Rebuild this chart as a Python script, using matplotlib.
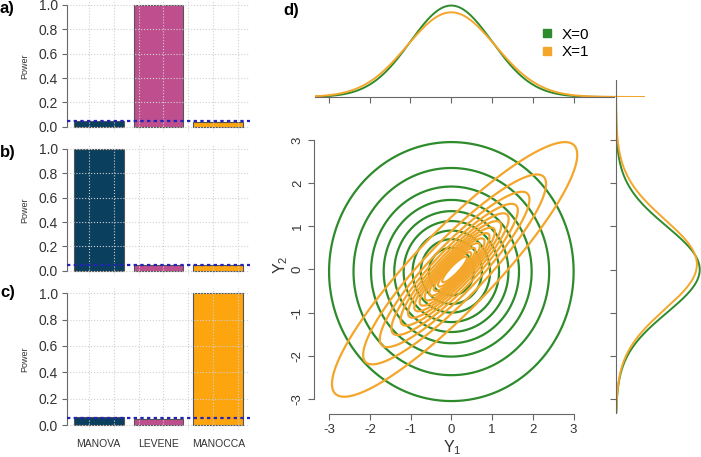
import numpy as np
import matplotlib
matplotlib.use('Agg')
import matplotlib.pyplot as plt
from matplotlib.lines import Line2D

plt.rcParams['font.family'] = ['Liberation Sans', 'DejaVu Sans']
plt.rcParams['axes.unicode_minus'] = False

# ---- data ----
tests = ['MANOVA', 'LEVENE', 'MANOCCA']
power_a = [0.05, 1.0, 0.04]
power_b = [1.0, 0.045, 0.05]
power_c = [0.06, 0.045, 1.0]
alpha_level = 0.05
bar_colors = ['#0A3F5E', '#BF4E8E', '#FDA50F']

groups = ['X=0', 'X=1']
group_colors = ['#2E8B2B', '#F4A62A']
# bivariate normal summaries per group: mean1, mean2, sd1, sd2, rho
means = [(0.0, -0.05), (0.08, 0.0)]
sds = [(1.0, 1.0), (1.02, 1.0)]
rhos = [0.0, 0.9]
# contour levels, given as Mahalanobis radii
radii_x0 = [3.0, 2.4, 1.97, 1.66, 1.4, 1.17, 0.95, 0.75, 0.55]
radii_x1 = [2.95, 2.2, 1.8, 1.52, 1.3, 1.12, 0.97, 0.84, 0.72, 0.61, 0.5, 0.4, 0.3]
# marginal densities: (mean, sd)
top_marg = [(0.0, 1.0), (0.0, 1.08)]
right_marg = [(0.0, 1.0), (0.12, 1.035)]

W, H = 701, 457
fig = plt.figure(figsize=(W / 100, H / 100), dpi=100)


def px_axes(left, top, right, bottom):
    return fig.add_axes([left / W, 1 - bottom / H, (right - left) / W, (bottom - top) / H])


spine_col = '#666666'
text_col = '#333333'

# ---- bar panels a, b, c ----
centers = np.array([0.7, 1.9, 3.1])
panels = [
    (power_a, 0.13, 131.6, 'a)', 9),
    (power_b, 144.1, 275.6, 'b)', 152),
    (power_c, 288.0, 430.3, 'c)', 292),
]
for i, (vals, top, bottom, letter, ly) in enumerate(panels):
    ax = px_axes(67, top, 250, bottom)
    ax.bar(centers, vals, width=1.0, color=bar_colors, edgecolor='#555555', linewidth=0.8, zorder=1)
    ax.set_xlim(0.064, 3.736)
    ax.set_ylim(-0.04, 1.04)
    ax.set_xticks(np.arange(0.5, 3.51, 0.5), minor=True)
    ax.grid(True, which='minor', axis='x', color='#d0d0d0', linestyle=':', linewidth=0.8, zorder=2)
    ax.set_yticks(np.arange(0, 1.01, 0.2))
    ax.grid(True, which='major', axis='y', color='#d0d0d0', linestyle=':', linewidth=0.8, zorder=2)
    ax.set_axisbelow(False)
    ax.axhline(alpha_level, color='#2323B8', linestyle=(0, (1.5, 1.5)), linewidth=1.6, zorder=3)
    for s in ['top', 'right', 'bottom']:
        ax.spines[s].set_visible(False)
    ax.spines['left'].set_bounds(0, 1)
    ax.spines['left'].set_color(spine_col)
    ax.tick_params(axis='y', direction='out', length=3.6, color=spine_col, labelsize=10,
                   labelcolor=text_col, pad=3)
    ax.tick_params(axis='x', which='minor', length=0)
    ax.set_yticklabels([f'{v:.1f}' for v in np.arange(0, 1.01, 0.2)])
    if i == 2:
        ax.set_xticks(centers, tests)
        ax.tick_params(axis='x', which='major', length=0, labelsize=7.5, labelcolor=text_col, pad=6)
    else:
        ax.set_xticks(centers, [])
        ax.tick_params(axis='x', which='major', length=0)
    ax.set_ylabel('Power', fontsize=6.5, color=text_col)
    ax.yaxis.set_label_coords(-0.208, 0.5)
    fig.text(0 / W, 1 - ly / H, letter, fontsize=12, fontweight='bold', va='center', ha='left')

# ---- panel d: contour plot ----
axm = px_axes(314, 127, 594, 414)
xlim = (-3.37, 3.5)
ylim = (-3.35, 3.3)
gx = np.linspace(xlim[0] - 0.5, xlim[1] + 0.5, 400)
gy = np.linspace(ylim[0] - 0.5, ylim[1] + 0.5, 400)
GX, GY = np.meshgrid(gx, gy)
for (m1, m2), (s1, s2), rho, radii, col in zip(means, sds, rhos, [radii_x0, radii_x1], group_colors):
    zx = (GX - m1) / s1
    zy = (GY - m2) / s2
    dist = np.sqrt((zx ** 2 - 2 * rho * zx * zy + zy ** 2) / (1 - rho ** 2))
    axm.contour(GX, GY, dist, levels=sorted(radii), colors=col, linewidths=1.6)
axm.set_xlim(*xlim)
axm.set_ylim(*ylim)
ticks = np.arange(-3, 4)
axm.set_xticks(ticks)
axm.set_yticks(ticks)
for s in ['top', 'right']:
    axm.spines[s].set_visible(False)
axm.spines['left'].set_bounds(-3, 3)
axm.spines['bottom'].set_bounds(-3, 3)
for s in ['left', 'bottom']:
    axm.spines[s].set_color(spine_col)
axm.tick_params(direction='out', length=4.3, color=spine_col, labelsize=9.5, labelcolor=text_col, pad=3)
for lab in axm.get_yticklabels():
    lab.set_rotation(90)
    lab.set_va('center')
axm.set_xlabel('$\\mathregular{Y_1}$', fontsize=11.5, color=text_col)
axm.xaxis.set_label_coords(0.493, -0.085)
axm.set_ylabel('$\\mathregular{Y_2}$', fontsize=11.5, color=text_col)
axm.yaxis.set_label_coords(-0.085, 0.52)

# top marginal
axt = px_axes(315, 3, 645, 97)
xt = np.linspace(-3.34, 4.75, 500)
for (mu, sd), col in zip(top_marg, group_colors):
    axt.plot(xt, np.exp(-0.5 * ((xt - mu) / sd) ** 2) / (sd * np.sqrt(2 * np.pi)), color=col, lw=1.4)
axt.set_xlim(-3.34, 4.75)
axt.set_ylim(0, 0.41)
for s in ['top', 'right', 'left']:
    axt.spines[s].set_visible(False)
axt.spines['bottom'].set_bounds(-3.34, 4.0)
axt.spines['bottom'].set_color(spine_col)
axt.set_xticks(ticks)
axt.set_xticklabels([])
axt.set_yticks([])
axt.tick_params(axis='x', direction='out', length=4.3, color=spine_col)
axt.patch.set_alpha(0)

# right marginal
axr = px_axes(616, 80, 701, 413)
yr = np.linspace(-3.32, 4.39, 500)
for (mu, sd), col in zip(right_marg, group_colors):
    axr.plot(np.exp(-0.5 * ((yr - mu) / sd) ** 2) / (sd * np.sqrt(2 * np.pi)), yr, color=col, lw=1.4)
axr.set_ylim(-3.32, 4.39)
axr.set_xlim(0, 0.405)
for s in ['top', 'right', 'bottom']:
    axr.spines[s].set_visible(False)
axr.spines['left'].set_color(spine_col)
axr.set_yticks(ticks)
axr.set_yticklabels([])
axr.set_xticks([])
axr.tick_params(axis='y', direction='out', length=4.3, color=spine_col)
axr.patch.set_alpha(0)

handles = [Line2D([], [], marker='s', linestyle='none', color=c, markersize=5.5) for c in group_colors]
fig.legend(handles, groups, loc='upper left', bbox_to_anchor=(533 / W, 1 - 20 / H), frameon=False,
           fontsize=11, handlelength=0.8, handletextpad=0.6, labelspacing=0.25, borderpad=0)

fig.text(283 / W, 1 - 11 / H, 'd)', fontsize=12, fontweight='bold', va='center', ha='left')

fig.savefig('out.png', dpi=100)
